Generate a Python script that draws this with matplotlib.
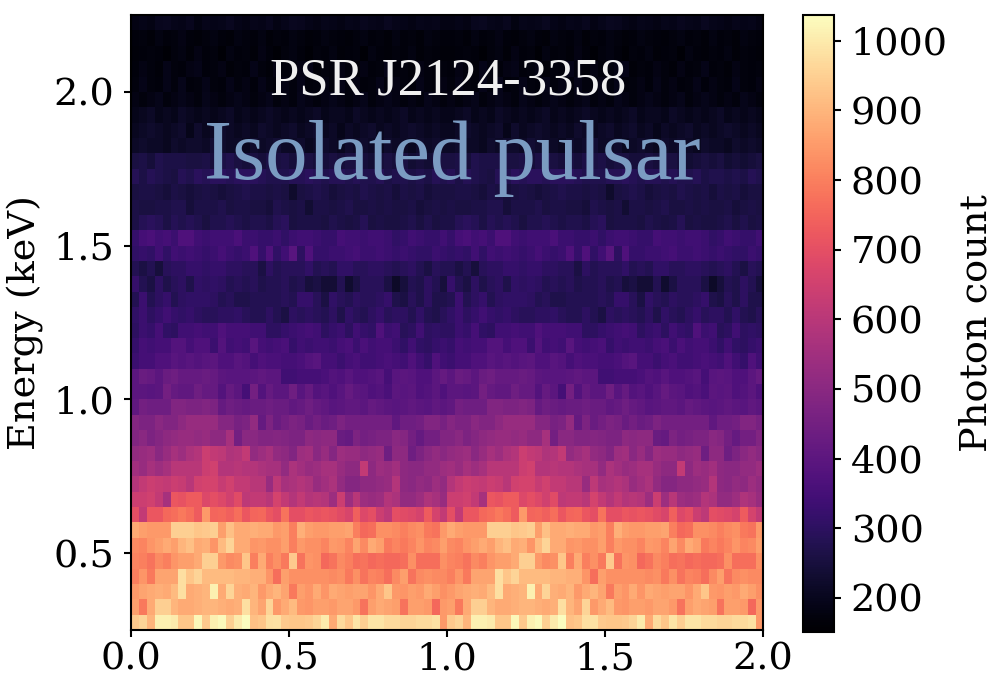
#!/usr/bin/python3

import numpy as np
import matplotlib
matplotlib.use("Agg")
import matplotlib.pyplot as plt

plt.rcParams["font.family"] = "DejaVu Serif"

### photon counts per phase/energy bin, one period only, lowest energy first
counts = [
    [940, 960, 900, 1010, 1010, 1000, 930, 930, 1025, 940, 1010, 1030, 950, 1000, 1037, 920, 930, 980, 985, 940, 930, 930, 940, 960, 1000, 880, 970, 930, 990, 950, 990, 990, 970, 970, 960, 960, 970, 970, 985, 850],
    [860, 790, 880, 950, 950, 900, 880, 880, 890, 900, 900, 890, 880, 890, 980, 900, 870, 960, 850, 880, 910, 850, 840, 860, 860, 850, 870, 870, 850, 780, 860, 880, 870, 860, 780, 860, 860, 850, 760, 850],
    [850, 870, 880, 890, 880, 910, 980, 880, 890, 900, 1010, 880, 960, 890, 880, 900, 850, 880, 900, 870, 790, 860, 840, 880, 840, 880, 870, 860, 870, 870, 840, 880, 930, 850, 840, 860, 850, 880, 860, 830],
    [800, 840, 790, 870, 870, 870, 980, 930, 960, 910, 910, 910, 910, 900, 900, 890, 890, 840, 770, 860, 830, 830, 830, 830, 830, 820, 830, 790, 830, 780, 810, 800, 770, 820, 860, 780, 820, 830, 820, 820],
    [810, 800, 780, 820, 800, 840, 860, 860, 880, 950, 950, 850, 820, 830, 930, 800, 880, 800, 830, 790, 940, 780, 840, 830, 760, 780, 820, 800, 770, 780, 760, 770, 760, 760, 770, 830, 770, 770, 770, 830],
    [820, 810, 840, 860, 880, 860, 900, 920, 880, 890, 840, 910, 960, 880, 880, 840, 850, 830, 830, 860, 800, 850, 830, 830, 810, 850, 840, 810, 870, 820, 880, 860, 790, 810, 790, 810, 840, 810, 820, 860],
    [880, 860, 850, 850, 850, 950, 950, 950, 930, 940, 950, 860, 920, 880, 880, 890, 880, 880, 850, 860, 800, 890, 860, 850, 850, 860, 860, 870, 800, 760, 770, 830, 830, 820, 800, 820, 830, 790, 780, 850],
    [700, 620, 720, 720, 760, 770, 790, 770, 730, 850, 750, 760, 740, 770, 720, 750, 760, 720, 700, 780, 700, 700, 720, 710, 720, 710, 690, 670, 740, 680, 700, 640, 610, 700, 690, 680, 660, 730, 660, 620],
    [640, 640, 650, 620, 560, 720, 710, 730, 730, 680, 700, 680, 650, 690, 610, 620, 620, 600, 660, 620, 590, 620, 590, 600, 590, 540, 640, 540, 600, 540, 530, 540, 590, 570, 520, 520, 540, 580, 560, 530],
    [590, 620, 640, 630, 620, 640, 630, 600, 650, 660, 660, 630, 650, 620, 620, 600, 600, 530, 610, 560, 570, 590, 570, 530, 550, 570, 520, 490, 490, 510, 510, 520, 530, 590, 510, 500, 520, 510, 540, 520],
    [550, 530, 560, 540, 560, 600, 600, 600, 600, 640, 650, 590, 590, 600, 590, 590, 570, 560, 560, 520, 570, 550, 530, 540, 560, 560, 530, 510, 510, 620, 510, 540, 530, 550, 510, 500, 500, 520, 520, 540],
    [520, 530, 540, 500, 530, 560, 540, 570, 590, 640, 620, 610, 580, 590, 620, 520, 540, 560, 520, 510, 480, 540, 550, 500, 530, 490, 540, 530, 530, 510, 520, 530, 440, 510, 510, 440, 470, 500, 520, 500],
    [480, 500, 470, 490, 510, 520, 530, 530, 520, 530, 510, 510, 560, 450, 500, 500, 480, 480, 490, 480, 470, 470, 510, 500, 510, 510, 430, 420, 470, 450, 460, 470, 470, 500, 490, 450, 420, 450, 450, 480],
    [490, 470, 470, 500, 480, 480, 510, 530, 530, 530, 530, 490, 490, 460, 470, 520, 420, 470, 430, 450, 470, 460, 430, 450, 430, 440, 470, 450, 450, 450, 450, 450, 450, 410, 440, 440, 450, 480, 480, 460],
    [410, 450, 440, 440, 440, 480, 480, 470, 470, 480, 470, 420, 440, 430, 420, 430, 430, 440, 430, 430, 410, 420, 440, 420, 410, 390, 400, 410, 410, 400, 420, 410, 400, 390, 400, 410, 400, 390, 410, 400],
    [400, 400, 390, 400, 450, 420, 410, 410, 440, 420, 420, 380, 420, 400, 350, 450, 380, 420, 400, 400, 440, 390, 420, 380, 390, 370, 390, 420, 400, 390, 370, 380, 360, 400, 390, 400, 370, 380, 400, 370],
    [400, 430, 420, 400, 430, 440, 420, 420, 420, 430, 420, 400, 390, 390, 390, 400, 410, 400, 400, 340, 340, 350, 350, 350, 360, 380, 370, 390, 370, 370, 380, 390, 350, 390, 400, 390, 370, 370, 400, 420],
    [330, 350, 350, 370, 370, 390, 380, 390, 380, 390, 400, 370, 370, 390, 380, 350, 370, 360, 360, 350, 350, 360, 380, 390, 350, 350, 330, 350, 360, 340, 340, 350, 360, 350, 340, 370, 340, 320, 370, 340],
    [320, 350, 340, 350, 350, 380, 380, 350, 370, 370, 330, 380, 340, 350, 340, 390, 350, 340, 350, 360, 320, 340, 330, 340, 340, 330, 350, 360, 330, 360, 340, 350, 350, 330, 310, 340, 310, 300, 320, 330],
    [300, 330, 320, 350, 310, 300, 340, 340, 350, 340, 340, 370, 350, 350, 350, 340, 340, 300, 300, 320, 330, 340, 350, 340, 300, 320, 330, 300, 340, 320, 310, 370, 330, 340, 290, 300, 340, 300, 310, 300],
    [310, 330, 300, 320, 340, 320, 310, 320, 300, 290, 290, 300, 300, 310, 290, 280, 280, 300, 280, 260, 300, 290, 300, 290, 280, 300, 270, 310, 290, 280, 300, 320, 290, 300, 300, 280, 310, 280, 270, 290],
    [280, 330, 280, 300, 320, 280, 300, 310, 310, 310, 300, 280, 290, 270, 270, 280, 280, 280, 280, 290, 280, 320, 320, 290, 260, 310, 290, 280, 300, 290, 290, 300, 320, 270, 260, 290, 270, 300, 270, 270],
    [320, 280, 260, 300, 270, 290, 300, 270, 310, 300, 310, 300, 280, 290, 280, 290, 270, 280, 280, 290, 270, 280, 250, 260, 240, 240, 280, 230, 260, 290, 290, 290, 260, 220, 250, 280, 270, 300, 280, 250],
    [280, 260, 280, 250, 290, 300, 300, 320, 320, 310, 320, 320, 300, 300, 290, 290, 260, 300, 280, 290, 290, 290, 310, 280, 290, 280, 310, 310, 290, 290, 300, 300, 290, 280, 290, 300, 280, 260, 290, 280],
    [310, 320, 310, 340, 310, 340, 330, 340, 330, 320, 330, 350, 330, 320, 330, 370, 320, 370, 310, 340, 390, 300, 370, 320, 320, 330, 330, 340, 350, 330, 330, 340, 330, 320, 330, 320, 310, 310, 330, 320],
    [320, 350, 360, 340, 350, 330, 370, 370, 340, 330, 340, 340, 340, 360, 330, 330, 320, 320, 330, 310, 330, 340, 340, 330, 320, 320, 350, 340, 340, 330, 340, 340, 330, 310, 320, 340, 330, 320, 320, 340],
    [265, 285, 295, 285, 265, 285, 275, 285, 275, 255, 275, 275, 285, 275, 265, 275, 275, 265, 285, 295, 255, 265, 265, 265, 255, 275, 265, 255, 265, 285, 255, 265, 255, 255, 265, 275, 255, 275, 255, 265],
    [265, 255, 255, 265, 265, 275, 275, 245, 265, 265, 265, 275, 255, 265, 265, 255, 255, 245, 275, 265, 255, 265, 235, 265, 265, 255, 265, 275, 255, 255, 265, 255, 265, 255, 255, 265, 245, 255, 265, 255],
    [255, 265, 265, 255, 245, 265, 255, 245, 255, 265, 255, 245, 255, 265, 275, 265, 265, 255, 265, 255, 225, 255, 265, 275, 265, 245, 255, 265, 255, 275, 265, 255, 265, 245, 265, 255, 265, 245, 255, 255],
    [285, 265, 285, 275, 265, 255, 285, 275, 295, 285, 295, 295, 285, 295, 295, 295, 285, 275, 275, 275, 285, 285, 295, 285, 275, 285, 285, 275, 285, 275, 275, 285, 265, 275, 275, 265, 275, 265, 285, 275],
    [255, 265, 245, 275, 265, 265, 265, 255, 255, 265, 245, 265, 275, 255, 245, 255, 245, 265, 255, 265, 245, 255, 255, 245, 245, 255, 245, 255, 255, 245, 235, 245, 255, 245, 255, 235, 245, 235, 245, 255],
    [215, 225, 215, 215, 205, 225, 215, 225, 225, 215, 235, 225, 215, 215, 205, 225, 215, 225, 235, 215, 215, 225, 205, 215, 225, 215, 205, 225, 215, 225, 215, 205, 225, 215, 215, 205, 225, 215, 225, 215],
    [205, 215, 225, 215, 205, 215, 225, 195, 225, 205, 215, 225, 215, 205, 215, 205, 225, 215, 205, 215, 225, 205, 215, 225, 205, 215, 195, 215, 205, 215, 225, 205, 215, 205, 215, 225, 215, 205, 215, 205],
    [195, 205, 215, 195, 205, 195, 215, 205, 195, 205, 195, 205, 215, 195, 205, 195, 205, 215, 205, 195, 205, 195, 205, 215, 195, 205, 205, 195, 215, 205, 195, 205, 195, 205, 215, 195, 205, 195, 205, 195],
    [185, 175, 185, 195, 175, 185, 195, 185, 175, 195, 185, 175, 185, 195, 185, 175, 185, 195, 175, 185, 175, 195, 185, 175, 185, 195, 185, 175, 185, 195, 175, 185, 195, 185, 175, 185, 175, 195, 185, 175],
    [175, 190, 175, 170, 190, 175, 195, 170, 175, 190, 175, 170, 190, 175, 185, 170, 190, 175, 170, 185, 175, 190, 170, 175, 185, 170, 190, 175, 185, 170, 175, 190, 170, 185, 175, 170, 190, 175, 170, 185],
    [170, 185, 175, 165, 190, 175, 170, 185, 190, 170, 175, 185, 165, 175, 170, 190, 175, 165, 185, 170, 175, 185, 190, 165, 175, 170, 185, 175, 165, 185, 170, 175, 190, 170, 175, 165, 185, 175, 170, 175],
    [165, 170, 175, 170, 160, 175, 180, 165, 185, 170, 175, 160, 180, 170, 175, 165, 185, 170, 160, 175, 180, 170, 160, 175, 170, 180, 165, 170, 175, 160, 180, 170, 165, 175, 170, 180, 165, 175, 170, 165],
    [170, 175, 165, 180, 170, 175, 185, 170, 165, 175, 180, 170, 165, 180, 175, 170, 180, 165, 175, 170, 180, 175, 165, 170, 180, 175, 170, 165, 175, 180, 170, 175, 165, 180, 170, 175, 165, 180, 175, 170],
    [185, 190, 185, 200, 205, 195, 190, 200, 180, 195, 190, 195, 205, 190, 185, 195, 190, 200, 185, 195, 205, 200, 190, 185, 195, 190, 185, 195, 190, 200, 195, 190, 205, 195, 190, 185, 195, 190, 195, 185],
]
phase_ticks = [0.0, 0.5, 1.0, 1.5, 2.0]
energy_ticks = [0.5, 1.0, 1.5, 2.0]
cbar_ticks = [200, 300, 400, 500, 600, 700, 800, 900, 1000]

### the second period is the same data again
image = np.hstack([np.array(counts), np.array(counts)])

fig = plt.figure(figsize=(9.97, 6.83), dpi=100)
ax = fig.add_axes([131 / 997, 1 - 630 / 683, 632 / 997, 615 / 683])
im = ax.imshow(image, origin="lower", extent=[0, 2, 0.25, 2.25], aspect="auto",
               cmap="magma", vmin=151, vmax=1037, interpolation="nearest")
ax.set_xticks(phase_ticks)
ax.set_yticks(energy_ticks)
ax.tick_params(axis="x", labelsize=27.5, length=5, width=1.5, pad=3)
ax.tick_params(axis="y", labelsize=27.5, length=5, width=1.5, pad=7)
ax.set_ylabel("Energy (keV)", fontsize=27.5, labelpad=7)
for spine in ax.spines.values():
    spine.set_linewidth(1.5)

ax.text(0.502, 0.892, "PSR J2124-3358", transform=ax.transAxes, color="#f0f0f0",
        fontsize=38, family="Liberation Serif", ha="center", va="center")
ax.text(0.508, 0.767, "Isolated pulsar", transform=ax.transAxes, color="#7b9cc2",
        fontsize=61, family="Liberation Serif", ha="center", va="center")

cax = fig.add_axes([803 / 997, 1 - 632 / 683, 31 / 997, 617 / 683])
cbar = fig.colorbar(im, cax=cax)
cbar.set_ticks(cbar_ticks)
cbar.ax.tick_params(labelsize=27.5, length=5, width=1.5, pad=7)
cbar.outline.set_linewidth(1.5)
cbar.set_label("Photon count", fontsize=27.5, labelpad=8)

fig.savefig("out.png", dpi=100)
